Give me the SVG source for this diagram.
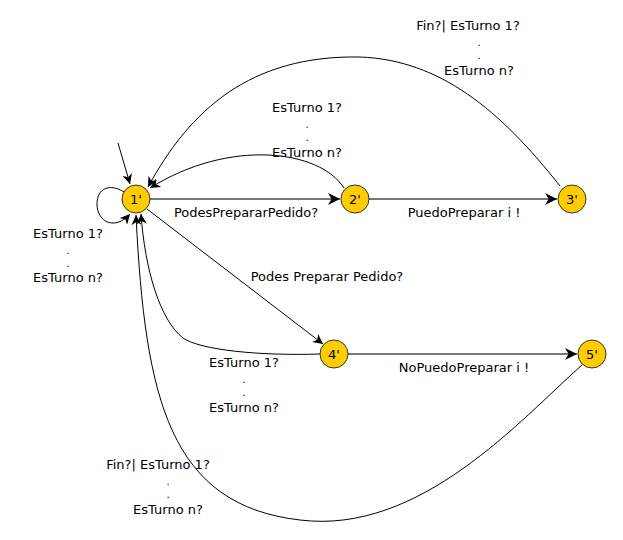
<svg xmlns="http://www.w3.org/2000/svg" width="623" height="540" viewBox="0 0 623 540">
<defs>
<marker id="ah" viewBox="0 0 10 10" refX="10" refY="5" markerWidth="10" markerHeight="10" markerUnits="userSpaceOnUse" orient="auto">
<path d="M0,0 L10,5 L0,10 L3,5 Z" fill="#000"/>
</marker>
<marker id="ahs" viewBox="0 0 10 10" refX="10" refY="5" markerWidth="12" markerHeight="12" markerUnits="userSpaceOnUse" orient="auto">
<path d="M0,0 L10,5 L0,10 L3,5 Z" fill="#000"/>
</marker>
</defs>
<style>
.n{fill:#ffcc00;stroke:#333;stroke-width:1}
.t{font-family:"DejaVu Sans",sans-serif;font-size:13px;fill:#000;text-anchor:middle}
.d{font-family:"DejaVu Sans",sans-serif;font-size:10px;fill:#000;text-anchor:middle}
.e{fill:none;stroke:#000;stroke-width:1;marker-end:url(#ah)}
.g{fill:none;stroke:#777;stroke-width:2;marker-end:url(#ahs)}
</style>
<rect width="623" height="540" fill="#fff"/>
<g id="connectors">
<path class="e" d="M118,143 L130,184"/>
<path class="e" d="M124,192 C110,183 97,188 97,204 C97,222 115,231 130,214"/>
<path class="g" d="M150,199 L340,199"/>
<path class="g" d="M369,199 L557,199"/>
<path class="e" d="M560,186 C500,110 440,60 360,57 C250,55 190,110 148,187"/>
<path class="e" d="M344,188 C320,150 230,138 150,188"/>
<path class="e" d="M147,209 L323,344"/>
<path class="e" d="M320,354 C260,356 200,350 183,338 C160,320 145,270 141,214"/>
<path class="g" d="M348,354 L577,354"/>
<path class="e" d="M582,365 C520,420 420,535 300,520 C170,505 145,400 136,215"/>
</g>
<g id="n1"><circle class="n" cx="136" cy="199" r="14"/><text class="t" x="136" y="204">1'</text></g>
<g id="n2"><circle class="n" cx="355" cy="199" r="14"/><text class="t" x="355" y="204">2'</text></g>
<g id="n3"><circle class="n" cx="572" cy="199" r="14"/><text class="t" x="572" y="204">3'</text></g>
<g id="n4"><circle class="n" cx="334" cy="354" r="14"/><text class="t" x="334" y="359">4'</text></g>
<g id="n5"><circle class="n" cx="592" cy="354" r="14"/><text class="t" x="592" y="359">5'</text></g>
<g id="labels">
<text class="t" x="246" y="217">PodesPrepararPedido?</text>
<text class="t" x="464" y="217">PuedoPreparar i !</text>
<text class="t" x="327" y="281">Podes Preparar Pedido?</text>
<text class="t" x="464" y="372">NoPuedoPreparar i !</text>
<text class="t" x="468" y="30">Fin?| EsTurno 1?</text>
<text class="d" x="479" y="46">.</text>
<text class="d" x="479" y="59">.</text>
<text class="t" x="479" y="75">EsTurno n?</text>
<text class="t" x="307" y="112">EsTurno 1?</text>
<text class="d" x="307" y="128">.</text>
<text class="d" x="307" y="141">.</text>
<text class="t" x="307" y="157">EsTurno n?</text>
<text class="t" x="68" y="238">EsTurno 1?</text>
<text class="d" x="68" y="254">.</text>
<text class="d" x="68" y="267">.</text>
<text class="t" x="68" y="282">EsTurno n?</text>
<text class="t" x="244" y="367">EsTurno 1?</text>
<text class="d" x="244" y="383">.</text>
<text class="d" x="244" y="396">.</text>
<text class="t" x="244" y="412">EsTurno n?</text>
<text class="t" x="158" y="469">Fin?| EsTurno 1?</text>
<text class="d" x="168" y="485">.</text>
<text class="d" x="168" y="498">.</text>
<text class="t" x="168" y="514">EsTurno n?</text>
</g>
</svg>
